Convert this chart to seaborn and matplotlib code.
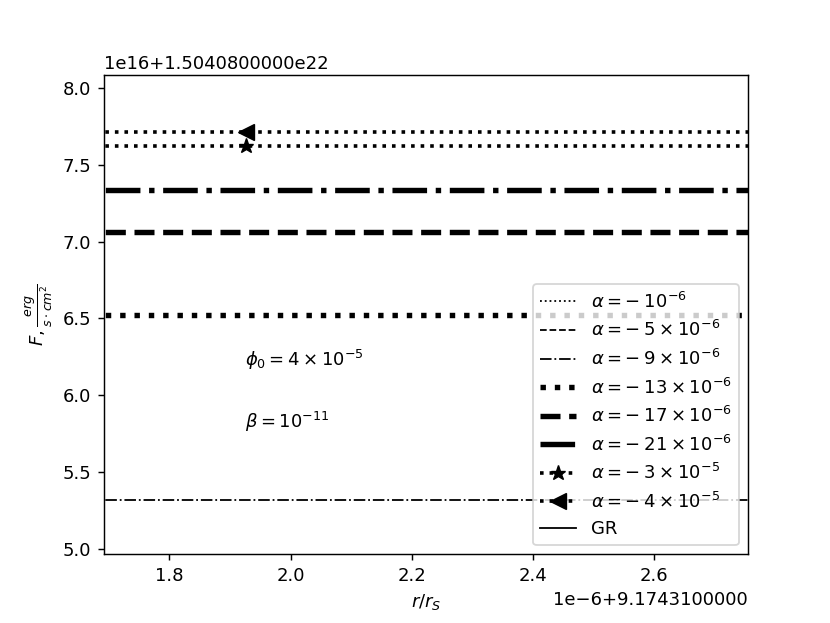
import numpy as np
import pandas as pd
import matplotlib
matplotlib.use("Agg")
import matplotlib.pyplot as plt
from matplotlib.ticker import ScalarFormatter
import seaborn as sns

# ---- data (offset units: x = 9.17431 + r*1e-6, y = 1.50408e22 + F*1e16) ----
X_BASE, X_SCALE = 9.17431, 1e-6
Y_BASE, Y_SCALE = 1.50408e22, 1e16

r_points = [1.60, 1.926, 2.90]          # r/r_S sample positions (offset units)
labels = [r"$\alpha=-\:10^{-6}$", r"$\alpha=-\:5\times10^{-6}$", r"$\alpha=-\:9\times10^{-6}$",
          r"$\alpha=-\:13\times10^{-6}$", r"$\alpha=-\:17\times10^{-6}$", r"$\alpha=-\:21\times10^{-6}$",
          r"$\alpha=-\:3\times10^{-5}$", r"$\alpha=-\:4\times10^{-5}$", "GR"]
F_values = [-1.9, 2.9, 5.319, 6.522, 7.060, 7.335, 7.621, 7.714, -2.5]   # flux offsets
styles = [":", "--", "-.", ":", "--", "-.", ":", ":", "-"]
widths = [1, 1, 1, 3, 3, 3, 2, 2, 1]
markers = [None, None, None, None, None, None, "*", "<", None]
msizes = [0, 0, 0, 0, 0, 0, 8.5, 9, 0]

xlim = (1.6917, 2.7549)
ylim = (4.965, 8.085)


class OldOffsetFormatter(ScalarFormatter):
    """Offset text in the long '%1.10e' style of older matplotlib."""
    def get_offset(self):
        if len(self.locs) == 0:
            return ""
        s = ""
        if self.orderOfMagnitude:
            s += ("1e%d" % self.orderOfMagnitude).replace("-", "\u2212")
        if self.offset:
            mant, exp = ("%1.10e" % self.offset).split("e")
            exp = int(exp)
            off = mant if exp == 0 else "%se%d" % (mant, exp)
            if self.offset > 0:
                off = "+" + off
            s += off.replace("-", "\u2212")
        return s


fig, ax = plt.subplots(figsize=(6.4, 4.8), dpi=129.8)

x = X_BASE + np.array(r_points) * X_SCALE
for lab, F, ls, lw, mk, ms in zip(labels, F_values, styles, widths, markers, msizes):
    df = pd.DataFrame({"r": x, "F": Y_BASE + np.full(len(x), F) * Y_SCALE})
    kw = dict(color="black", linestyle=ls, linewidth=lw, label=lab)
    if mk is not None:
        kw.update(marker=mk, markersize=ms, markevery=[1], markeredgecolor="black",
                  markerfacecolor="black")
    sns.lineplot(data=df, x="r", y="F", ax=ax, sort=False, estimator=None, **kw)

ax.set_xlim(X_BASE + xlim[0] * X_SCALE, X_BASE + xlim[1] * X_SCALE)
ax.set_ylim(Y_BASE + ylim[0] * Y_SCALE, Y_BASE + ylim[1] * Y_SCALE)
ax.xaxis.set_major_formatter(OldOffsetFormatter())
ax.yaxis.set_major_formatter(OldOffsetFormatter())

ax.text(X_BASE + 1.925 * X_SCALE, Y_BASE + 6.19 * Y_SCALE, r"$\phi_0=4\times10^{-5}$")
ax.text(X_BASE + 1.925 * X_SCALE, Y_BASE + 5.79 * Y_SCALE, r"$\beta=10^{-11}$")

ax.set_xlabel(r"$r/r_S$")
ax.set_ylabel(r"$F,\frac{erg}{s\cdot cm^2}$")
ax.legend(loc="lower right", labelspacing=0.47)

fig.savefig("out.png", dpi=129.8)
